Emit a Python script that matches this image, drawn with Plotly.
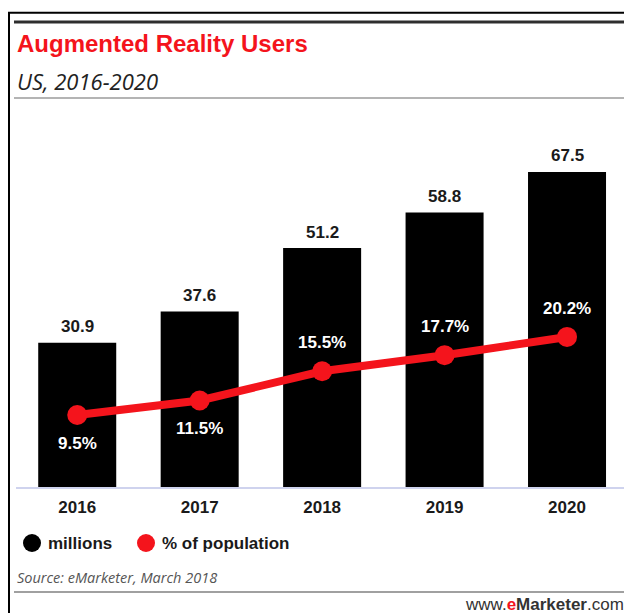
import plotly.graph_objects as go

# Data
years = ["2016", "2017", "2018", "2019", "2020"]
users_millions = [30.9, 37.6, 51.2, 58.8, 67.5]
pct_population = [9.5, 11.5, 15.5, 17.7, 20.2]

# Styling
W, H = 624, 613
PLOT_L, PLOT_R, PLOT_T, PLOT_B = 16, 624, 110, 487
RED = "#f4141c"
BAR_SCALE = 4.667      # px per million
PCT_SCALE = 7.3        # px per percentage point
PCT_ZERO_PX = 484.4    # pixel row of 0% on the secondary axis
pct_label_side = [-1, -1, 1, 1, 1]  # -1 = below the point, 1 = above

plot_h = PLOT_B - PLOT_T
plot_w = PLOT_R - PLOT_L


def px_x(px):
    return (px - PLOT_L) / plot_w


def px_y(py):
    return (PLOT_B - py) / plot_h


fig = go.Figure()

fig.add_trace(go.Bar(
    x=years, y=users_millions, name="millions",
    marker=dict(color="#000000", line=dict(width=0)),
    yaxis="y", showlegend=False,
))

fig.add_trace(go.Scatter(
    x=years, y=pct_population, name="% of population",
    mode="lines+markers",
    line=dict(color=RED, width=8),
    marker=dict(color=RED, size=20),
    yaxis="y2", showlegend=False,
))

annotations = []
label_font = dict(family="Liberation Sans, Arial, sans-serif", size=17, weight="bold")

# Value labels above the bars (x given as category index)
for i, v in enumerate(users_millions):
    annotations.append(dict(
        x=i, y=v, xref="x", yref="y", text=f"{v:.1f}", showarrow=False,
        yshift=16, font=dict(label_font, color="#1a1a1a"),
    ))

# Percentage labels next to the line points
for i, (p, side) in enumerate(zip(pct_population, pct_label_side)):
    annotations.append(dict(
        x=i, y=p, xref="x", yref="y2", text=f"{p:.1f}%", showarrow=False,
        yshift=28.5 * side, font=dict(label_font, color="#ffffff"),
    ))

# Title block
annotations.append(dict(
    x=px_x(15), y=px_y(44), xref="paper", yref="paper", xanchor="left", yanchor="middle",
    text="Augmented Reality Users", showarrow=False,
    font=dict(family="Liberation Sans, Arial, sans-serif", size=24, weight="bold", color=RED),
))
annotations.append(dict(
    x=px_x(15), y=px_y(81), xref="paper", yref="paper", xanchor="left", yanchor="middle",
    text="<i>US, 2016-2020</i>", showarrow=False,
    font=dict(family="Open Sans, sans-serif", size=22, color="#222222"),
))

# Legend
legend_items = [("millions", "#000000", 32), ("% of population", RED, 146)]
shapes = []
for label, color, cx in legend_items:
    shapes.append(dict(
        type="circle", xref="paper", yref="paper",
        xsizemode="pixel", ysizemode="pixel",
        xanchor=px_x(cx), yanchor=px_y(543),
        x0=-9, x1=9, y0=-9, y1=9,
        fillcolor=color, line=dict(width=0),
    ))
    annotations.append(dict(
        x=px_x(cx + 14), y=px_y(543), xref="paper", yref="paper",
        xanchor="left", yanchor="middle", text=label, showarrow=False,
        font=dict(label_font, color="#1a1a1a"),
    ))

# Footer
annotations.append(dict(
    x=px_x(15), y=px_y(577), xref="paper", yref="paper", xanchor="left", yanchor="middle",
    text="<i>Source: eMarketer, March 2018</i>", showarrow=False,
    font=dict(family="Open Sans, sans-serif", size=14.5, color="#555555"),
))
annotations.append(dict(
    x=px_x(626), y=px_y(604), xref="paper", yref="paper", xanchor="right", yanchor="middle",
    text=f'www.<span style="color:{RED}"><b>e</b></span><b>Marketer</b>.com',
    showarrow=False,
    font=dict(family="Liberation Sans, Arial, sans-serif", size=17, color="#333333"),
))

# Frame and rules
shapes += [
    dict(type="rect", xref="paper", yref="paper",
         x0=px_x(9), x1=px_x(660), y0=px_y(12.7), y1=px_y(660),
         line=dict(color="#000000", width=2), fillcolor="rgba(0,0,0,0)"),
    dict(type="line", xref="paper", yref="paper",
         x0=px_x(14), x1=px_x(660), y0=px_y(22), y1=px_y(22),
         line=dict(color="#2e2e2e", width=3)),
    dict(type="line", xref="paper", yref="paper",
         x0=px_x(14), x1=px_x(660), y0=px_y(98), y1=px_y(98),
         line=dict(color="#b4b4b4", width=2)),
    dict(type="line", xref="paper", yref="paper",
         x0=px_x(14), x1=px_x(660), y0=px_y(592), y1=px_y(592),
         line=dict(color="#808080", width=1.5)),
]

slot = 122.45
fig.update_layout(
    width=W, height=H,
    margin=dict(l=PLOT_L, r=W - PLOT_R, t=PLOT_T, b=H - PLOT_B, autoexpand=False),
    paper_bgcolor="#ffffff", plot_bgcolor="#ffffff",
    bargap=0.363,
    xaxis=dict(
        type="category", range=[-0.5, -0.5 + plot_w / slot],
        showgrid=False, zeroline=False,
        showline=True, linecolor="#cfd3ee", linewidth=1.5,
        ticks="", ticklabelstandoff=4,
        tickfont=dict(family="Liberation Sans, Arial, sans-serif", size=17,
                      weight="bold", color="#1a1a1a"),
        automargin=False,
    ),
    yaxis=dict(range=[0, plot_h / BAR_SCALE], visible=False, fixedrange=True),
    yaxis2=dict(
        range=[(PCT_ZERO_PX - PLOT_B) / PCT_SCALE, (PCT_ZERO_PX - PLOT_T) / PCT_SCALE],
        overlaying="y", visible=False,
    ),
    annotations=annotations,
    shapes=shapes,
    showlegend=False,
)

fig.write_html("out.html")
